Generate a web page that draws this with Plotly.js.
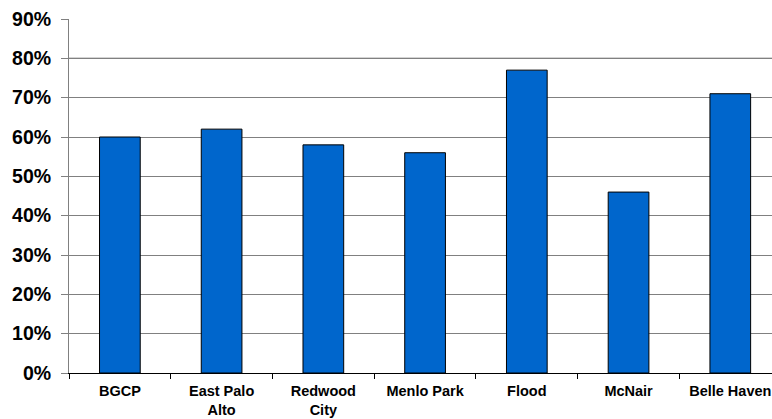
<!DOCTYPE html>
<html><head><meta charset="utf-8">
<script src="https://cdn.plot.ly/plotly-3.0.1.min.js"></script>
<style>html,body{margin:0;padding:0;background:#fff;}#chart{width:772px;height:419px;}</style>
</head><body><div id="chart"></div>
<script>
const categories = ["BGCP", "East Palo<br>Alto", "Redwood<br>City", "Menlo Park", "Flood", "McNair", "Belle Haven"];
const values = [0.60, 0.62, 0.58, 0.56, 0.77, 0.46, 0.71];
const yTickVals = [0, 0.1, 0.2, 0.3, 0.4, 0.5, 0.6, 0.7, 0.8, 0.9];

const trace = {
  type: 'bar', x: categories, y: values, width: 0.4,
  marker: {color: '#0066CC', line: {color: '#000000', width: 1}},
  hoverinfo: 'none'
};
const layout = {
  width: 772, height: 419,
  margin: {l: 69, r: 0, t: 19, b: 46},
  paper_bgcolor: '#fff', plot_bgcolor: '#fff',
  showlegend: false,
  font: {family: 'Liberation Sans, Arial, sans-serif', color: '#000'},
  xaxis: {
    type: 'category', range: [-0.5, 6.41],
    showgrid: false, showline: true, linecolor: '#000', linewidth: 1,
    ticks: 'outside', tickson: 'boundaries', ticklen: 5, tickcolor: '#000',
    tickfont: {size: 14.5, family: 'Liberation Sans, Arial, sans-serif', weight: 'bold'},
    tickangle: 0, ticklabelstandoff: 5
  },
  yaxis: {
    range: [0, 0.9], tickvals: yTickVals, tickformat: '.0%',
    showgrid: true, gridcolor: '#808080', gridwidth: 1,
    showline: true, linecolor: '#808080', linewidth: 1,
    ticks: 'outside', ticklen: 7, tickcolor: '#808080',
    tickfont: {size: 19.5, family: 'Liberation Sans, Arial, sans-serif', weight: 'bold'},
    zeroline: false, ticklabelstandoff: 6
  },
  shapes: [{type: 'line', xref: 'paper', x0: 0, x1: 1, yref: 'y', y0: 0.8, y1: 0.8,
    line: {color: '#000', width: 1}, layer: 'below'}]
};
Plotly.newPlot('chart', [trace], layout, {displayModeBar: false, staticPlot: true});
</script></body></html>
